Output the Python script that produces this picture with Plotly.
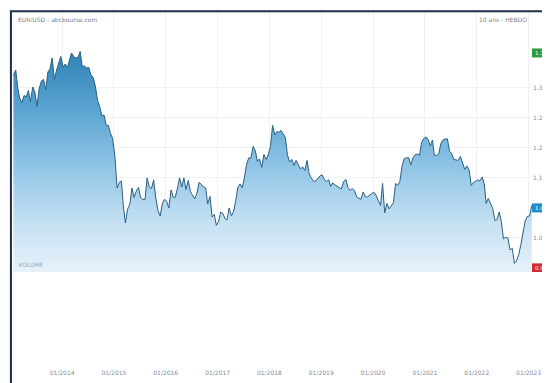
import plotly.graph_objects as go

months = [f"{y}-{m:02d}-{d}" for y in range(2013, 2024) for m in range(1, 13) for d in ("08", "23")]
dates = [d for d in months if "2013-01-23" <= d <= "2023-01-23"]

close = [
    # 2013 (from Jan 23)
    1.345, 1.356, 1.319, 1.300, 1.290, 1.305, 1.302, 1.315, 1.293, 1.322, 1.312, 1.283,
    1.318, 1.334, 1.337, 1.317, 1.352, 1.358, 1.380, 1.337, 1.356, 1.370, 1.383,
    # 2014
    1.362, 1.368, 1.361, 1.375, 1.390, 1.383, 1.380, 1.381, 1.393, 1.363, 1.364, 1.360,
    1.361, 1.346, 1.341, 1.324, 1.295, 1.283, 1.264, 1.266, 1.245, 1.245, 1.229, 1.219,
    # 2015
    1.184, 1.120, 1.131, 1.134, 1.085, 1.050, 1.078, 1.087, 1.120, 1.101, 1.114, 1.121,
    1.101, 1.097, 1.097, 1.140, 1.121, 1.119, 1.136, 1.100, 1.074, 1.064, 1.088, 1.097,
    # 2016
    1.093, 1.080, 1.116, 1.101, 1.101, 1.118, 1.140, 1.122, 1.140, 1.117, 1.135, 1.113,
    1.106, 1.098, 1.109, 1.131, 1.127, 1.122, 1.120, 1.088, 1.103, 1.062, 1.067, 1.045,
    # 2017
    1.053, 1.072, 1.068, 1.058, 1.056, 1.080, 1.064, 1.073, 1.093, 1.121, 1.128, 1.120,
    1.140, 1.166, 1.180, 1.180, 1.203, 1.195, 1.173, 1.178, 1.161, 1.187, 1.177, 1.186,
    # 2018
    1.203, 1.245, 1.226, 1.233, 1.231, 1.235, 1.228, 1.221, 1.186, 1.172, 1.177, 1.165,
    1.175, 1.165, 1.158, 1.162, 1.155, 1.175, 1.148, 1.140, 1.133, 1.134, 1.138, 1.144,
    # 2019
    1.146, 1.137, 1.133, 1.136, 1.123, 1.130, 1.126, 1.123, 1.120, 1.118, 1.133, 1.137,
    1.121, 1.115, 1.119, 1.114, 1.102, 1.099, 1.097, 1.112, 1.102, 1.102, 1.106, 1.109,
    # 2020
    1.111, 1.105, 1.094, 1.085, 1.129, 1.070, 1.089, 1.078, 1.084, 1.090, 1.129, 1.125,
    1.133, 1.163, 1.179, 1.180, 1.181, 1.166, 1.180, 1.186, 1.188, 1.185, 1.211, 1.219,
    # 2021
    1.222, 1.217, 1.204, 1.216, 1.185, 1.185, 1.188, 1.209, 1.216, 1.218, 1.218, 1.194,
    1.188, 1.177, 1.176, 1.175, 1.183, 1.172, 1.157, 1.164, 1.156, 1.125, 1.131, 1.133,
    # 2022
    1.136, 1.134, 1.142, 1.127, 1.089, 1.099, 1.088, 1.079, 1.055, 1.056, 1.072, 1.052,
    1.018, 1.021, 1.020, 0.996, 0.999, 0.969, 0.974, 0.986, 1.007, 1.030, 1.054, 1.063,
    # 2023
    1.064, 1.085,
]

year_ticks = [f"{y}-01-01" for y in range(2014, 2024)]
year_labels = [f"01/{y}" for y in range(2014, 2024)]
price_ticks = [1.02, 1.14, 1.20, 1.26, 1.32]
badges = [(1.39, "1.39", "#2f9a3c"), (1.08, "1.08", "#1c8bd2"), (0.96, "0.96", "#cf2a2f")]

fig = go.Figure()
fig.add_trace(go.Scatter(
    x=dates, y=close, mode="lines",
    line=dict(color="#2b5f82", width=1),
    fill="tozeroy",
    fillgradient=dict(
        type="vertical", start=0.95, stop=1.40,
        colorscale=[[0, "#e6f2fa"], [0.22, "#c6e1f3"], [0.45, "#94c7e7"],
                    [0.7, "#60a8d4"], [1, "#2c80b5"]],
    ),
    hoverinfo="skip",
))

grid = "#eef2f6"
# page body adds an 8px offset; figure is sized so the drawing fills the 550x383 window
fig.update_layout(
    width=542, height=375,
    margin=dict(l=5, r=18, t=4, b=15, autoexpand=False),
    paper_bgcolor="white", plot_bgcolor="white",
    showlegend=False,
    font=dict(family="DejaVu Sans", size=7, color="#8795a3"),
    xaxis=dict(
        range=["2013-01-20", "2023-01-25"],
        anchor="free", position=0, automargin=False,
        tickvals=year_ticks, ticktext=year_labels,
        showgrid=True, gridcolor=grid, gridwidth=1,
        showline=False, zeroline=False, ticks="",
        tickfont=dict(size=6, color="#7f8d9b"),
    ),
    yaxis=dict(
        domain=[0.27, 1], range=[0.952, 1.472], automargin=False,
        side="right", tickvals=price_ticks,
        ticktext=[f"{v:.2f}" for v in price_ticks],
        showgrid=True, gridcolor=grid, zeroline=False, showline=False,
        ticks="", tickfont=dict(size=6, color="#7f8d9b"),
    ),
)

shapes = [
    dict(type="line", xref="paper", yref="paper", x0=-0.006, x1=1.04, y0=1.002, y1=1.002,
         line=dict(color="#1f2d4a", width=2)),
    dict(type="line", xref="paper", yref="paper", x0=-0.004, x1=-0.004, y0=1.002, y1=-0.05,
         line=dict(color="#1f2d4a", width=2)),
]
annotations = [
    dict(text="EUR/USD - abcbourse.com", xref="paper", yref="paper", x=0.006, y=0.978,
         xanchor="left", yanchor="middle", showarrow=False,
         font=dict(size=6, color="#6f7f90")),
    dict(text="10 ans - HEBDO", xref="paper", yref="paper", x=0.995, y=0.978,
         xanchor="right", yanchor="middle", showarrow=False,
         font=dict(size=6, color="#6f7f90")),
    dict(text="VOLUME", xref="paper", yref="paper", x=0.006, y=0.29,
         xanchor="left", yanchor="middle", showarrow=False,
         font=dict(size=6, color="#8fb0c8")),
]
for v, t, c in badges:
    shapes.append(dict(type="rect", xref="paper", yref="y", x0=1.0, x1=1.034,
                       y0=v - 0.009, y1=v + 0.009, fillcolor=c, line=dict(width=0)))
    annotations.append(dict(text=t, xref="paper", yref="y", x=1.002, y=v, xanchor="left",
                            yanchor="middle", showarrow=False,
                            font=dict(size=5.5, color="white")))
fig.update_layout(shapes=shapes, annotations=annotations)

fig.write_html("out.html")
